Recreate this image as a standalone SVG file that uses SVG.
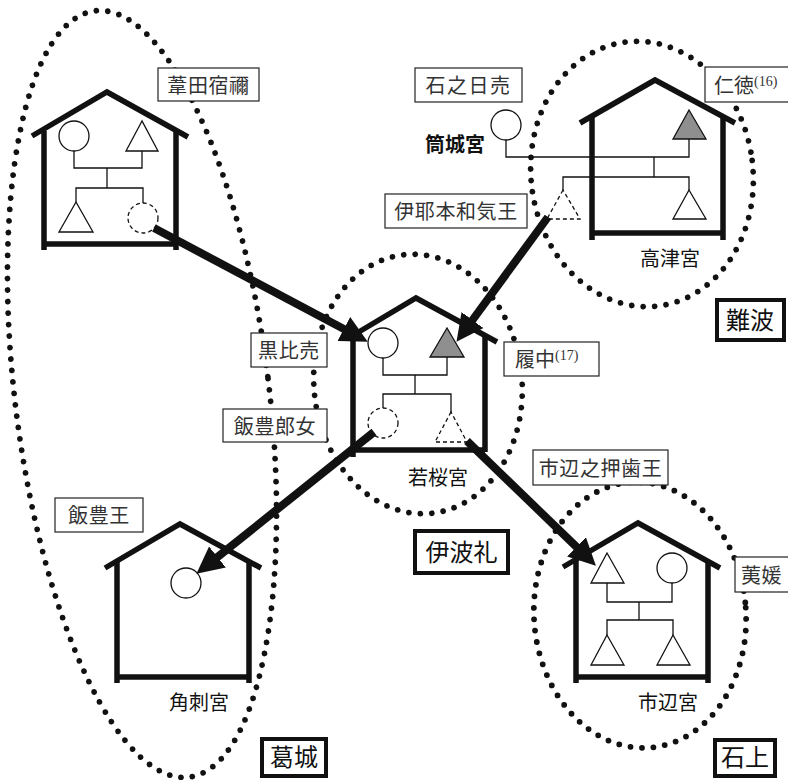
<svg xmlns="http://www.w3.org/2000/svg" width="788" height="780" viewBox="0 0 788 780">
<style>
.dot{fill:none;stroke:#111;stroke-width:5.8;stroke-linecap:round;stroke-dasharray:0 11.5}
.wall{fill:none;stroke:#111;stroke-width:5.5;stroke-linejoin:miter}
.gen{fill:none;stroke:#111;stroke-width:1.3}
.sym{fill:#fff;stroke:#111;stroke-width:1.3}
.gray{fill:#8f8f8f;stroke:#111;stroke-width:1.3}
.dash{fill:#fff;stroke:#111;stroke-width:1.3;stroke-dasharray:4 3}
.arrow{fill:none;stroke:#111;stroke-width:8;marker-end:url(#ah)}
.box{fill:#fff;stroke:#222;stroke-width:1.2}
.rbox{fill:#fff;stroke:#111;stroke-width:4}
.lbl{font-family:"Noto Sans CJK JP","Noto Sans CJK SC",sans-serif;font-size:20px;fill:#333;text-anchor:middle;letter-spacing:0.6px}
.pal{font-family:"Noto Sans CJK JP","Noto Sans CJK SC",sans-serif;font-size:20px;fill:#111;text-anchor:middle}
.reg{font-family:"Noto Sans CJK JP","Noto Sans CJK SC",sans-serif;font-size:24px;fill:#111;text-anchor:middle}
.sup{font-family:"Liberation Serif",serif;font-size:14px}
</style>
<defs>
<marker id="ah" markerUnits="userSpaceOnUse" viewBox="0 0 27 27" markerWidth="27" markerHeight="27" refX="16" refY="13.5" orient="auto">
<path d="M0,0 L27,13.5 L0,27 Z" fill="#111"/>
</marker>
</defs>
<rect width="788" height="780" fill="#fff"/>

<g id="regions">
<ellipse class="dot" cx="142" cy="394" rx="127" ry="386" transform="rotate(-7 142 394)"/>
<ellipse class="dot" cx="642" cy="174" rx="111" ry="133" transform="rotate(-7 642 174)"/>
<ellipse class="dot" cx="418" cy="384" rx="104" ry="130" transform="rotate(-6 418 384)"/>
<ellipse class="dot" cx="640" cy="615" rx="106" ry="133" transform="rotate(-4 640 615)"/>
</g>

<g id="house-ashida">
<polyline class="wall" points="32,136 107,92 188,137"/>
<path class="wall" d="M44,131 V250 M176,131 V250 M44,244 H176"/>
<path class="gen" d="M74,151 V168 H142 V151 M107,168 V188 M76,202 V188 H143 V203"/>
<circle class="sym" cx="74" cy="136" r="15"/>
<polygon class="sym" points="142,121 126,151 158,151"/>
<polygon class="sym" points="76,202 59,232 93,232"/>
<circle class="dash" cx="143" cy="218" r="15"/>
</g>

<g id="house-takatsu">
<polyline class="wall" points="580,123 655,80 735,123"/>
<path class="wall" d="M592,117 V240 M723,116 V240 M592,233 H723"/>
<path class="gen" d="M506,140 V157 H689 V139 M654,157 V177 M563,190 V177 H689 V190"/>
<circle class="sym" cx="506" cy="125" r="15"/>
<polygon class="gray" points="689,110 673,139 706,139"/>
<polygon class="dash" points="563,190 547,219 580,219"/>
<polygon class="sym" points="689,190 673,219 706,219"/>
</g>

<g id="house-wakazakura">
<polyline class="wall" points="347,339 416,298 497,342"/>
<path class="wall" d="M353,335 V457 M485,335 V452 M353,450 H485"/>
<path class="gen" d="M383,358 V375 H447 V357 M415,375 V394 M383,408 V394 H451 V412"/>
<circle class="sym" cx="383" cy="343" r="15"/>
<polygon class="gray" points="447,328 430,357 464,357"/>
<circle class="dash" cx="383" cy="423" r="15"/>
<polygon class="dash" points="451,412 435,442 467,442"/>
</g>

<g id="house-tsunosashi">
<polyline class="wall" points="105,568 180,524 261,568"/>
<path class="wall" d="M117,562 V683 M249,562 V683 M117,677 H249"/>
<circle class="sym" cx="186" cy="583" r="15"/>
</g>

<g id="house-ichinobe">
<polyline class="wall" points="563,567 638,523 720,568"/>
<path class="wall" d="M576,561 V683 M708,561 V683 M576,677 H708"/>
<path class="gen" d="M607,583 V602 H672 V583 M639,602 V620 M607,635 V620 H673 V635"/>
<polygon class="sym" points="607,553 591,583 624,583"/>
<circle class="sym" cx="672" cy="568" r="15"/>
<polygon class="sym" points="607,635 591,665 624,665"/>
<polygon class="sym" points="673,635 657,665 690,665"/>
</g>

<g id="connectors">
<line class="arrow" x1="154" y1="228" x2="358" y2="336.5"/>
<line class="arrow" x1="548" y1="217" x2="463" y2="333"/>
<line class="arrow" x1="374" y1="432" x2="205" y2="567"/>
<line class="arrow" x1="467" y1="441" x2="588" y2="558"/>
</g>

<g id="label-ashida"><rect class="box" x="158" y="68" width="101" height="33"/><text class="lbl" x="208.5" y="93">葦田宿禰</text></g>
<g id="label-iwanohime"><rect class="box" x="415" y="68" width="107" height="34"/><text class="lbl" x="468.5" y="93" style="letter-spacing:1.5px">石之日売</text></g>
<g id="label-nintoku"><rect class="box" x="705" y="67" width="84" height="35"/><text class="lbl" x="714" y="93" style="text-anchor:start;letter-spacing:0">仁徳<tspan class="sup" dy="-7">(16)</tspan></text></g>
<g id="label-izahowake"><rect class="box" x="385" y="194" width="142" height="34"/><text class="lbl" x="456" y="219">伊耶本和気王</text></g>
<g id="label-kurohime"><rect class="box" x="251" y="333" width="76" height="34"/><text class="lbl" x="289" y="358">黒比売</text></g>
<g id="label-richu"><rect class="box" x="504" y="342" width="95" height="34"/><text class="lbl" x="515" y="367" style="text-anchor:start;letter-spacing:0">履中<tspan class="sup" dy="-7">(17)</tspan></text></g>
<g id="label-iitoyo-iratsume"><rect class="box" x="223" y="409" width="104" height="33"/><text class="lbl" x="275" y="434">飯豊郎女</text></g>
<g id="label-oshiha"><rect class="box" x="533" y="450" width="135" height="35"/><text class="lbl" x="600.5" y="476">市辺之押歯王</text></g>
<g id="label-iitoyo-o"><rect class="box" x="55" y="498" width="88" height="34"/><text class="lbl" x="99" y="523">飯豊王</text></g>
<g id="label-haehime"><rect class="box" x="735" y="557" width="60" height="35"/><text class="lbl" x="741" y="583" style="text-anchor:start">荑媛</text></g>

<g id="palace-tsutsuki"><text class="pal" x="455" y="152" style="font-weight:bold">筒城宮</text></g>
<g id="palace-takatsu"><text class="pal" x="670" y="266">高津宮</text></g>
<g id="palace-wakazakura"><text class="pal" x="438" y="485">若桜宮</text></g>
<g id="palace-tsunosashi"><text class="pal" x="199" y="710">角刺宮</text></g>
<g id="palace-ichinobe"><text class="pal" x="668" y="710">市辺宮</text></g>

<g id="region-naniwa"><rect class="rbox" x="717" y="300" width="67" height="40"/><text class="reg" x="750" y="329">難波</text></g>
<g id="region-iware"><rect class="rbox" x="415" y="531" width="93" height="42"/><text class="reg" x="461.5" y="561">伊波礼</text></g>
<g id="region-katsuragi"><rect class="rbox" x="262" y="739" width="64" height="37"/><text class="reg" x="294" y="766">葛城</text></g>
<g id="region-isonokami"><rect class="rbox" x="715" y="740" width="60" height="36"/><text class="reg" x="745" y="766">石上</text></g>
</svg>
